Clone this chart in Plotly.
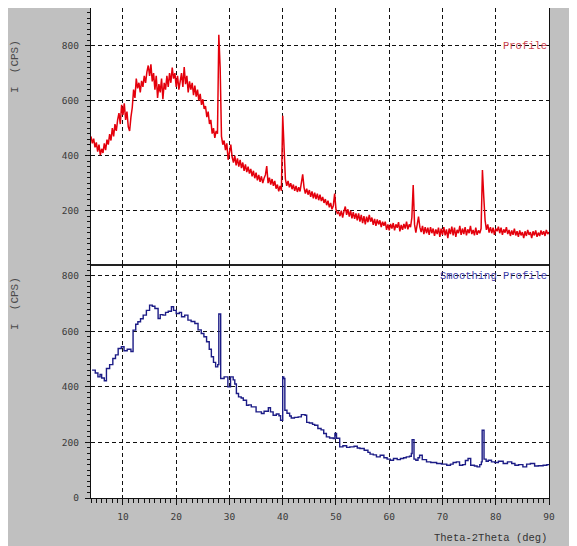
import numpy as np
import plotly.graph_objects as go
from plotly.subplots import make_subplots

# ---------------- data ----------------
# Raw profile (top, red): 2theta from 4.00 to 90.00 deg, 0.25 deg step
red_start = 4.0
red_step = 0.25
red_counts = [
    470, 445, 462, 430, 448, 415, 440, 402, 425, 410, 445, 420, 458, 440, 478, 455, 500, 470, 515, 490,
    530, 555, 515, 585, 548, 590, 530, 560, 505, 490, 540, 575, 640, 610, 680, 645, 665, 630, 672, 650,
    690, 665, 705, 728, 690, 732, 670, 700, 640, 690, 610, 660, 630, 680, 605, 665, 640, 690, 650, 700,
    665, 720, 680, 700, 650, 690, 640, 675, 700, 650, 722, 660, 690, 630, 670, 640, 665, 620, 655, 615,
    640, 600, 625, 585, 605, 570, 580, 540, 560, 515, 530, 480, 500, 465, 490, 480, 840, 720, 470, 440,
    455, 420, 445, 385, 410, 440, 395, 375, 400, 365, 390, 360, 385, 355, 375, 345, 368, 340, 360, 335,
    352, 325, 345, 318, 338, 310, 330, 305, 325, 300, 318, 330, 362, 300, 320, 295, 315, 290, 308, 280,
    295, 270, 290, 272, 545, 400, 315, 290, 308, 285, 300, 278, 295, 272, 290, 268, 285, 270, 300, 332,
    285, 262, 280, 258, 275, 250, 270, 245, 265, 242, 262, 238, 258, 235, 250, 228, 242, 220, 236, 212,
    228, 205, 218, 262, 205, 190, 195, 180, 200, 175, 198, 215, 185, 205, 178, 200, 172, 195, 170, 190,
    165, 190, 160, 185, 155, 180, 150, 178, 158, 185, 160, 175, 148, 170, 145, 168, 150, 165, 140, 160,
    145, 160, 130, 150, 128, 152, 135, 155, 128, 150, 138, 158, 125, 148, 130, 152, 135, 160, 132, 150,
    140, 175, 293, 150, 120, 150, 178, 140, 122, 145, 115, 140, 118, 138, 112, 140, 118, 135, 108, 132,
    115, 138, 105, 135, 112, 140, 110, 132, 100, 135, 115, 142, 110, 138, 105, 130, 118, 145, 112, 135,
    115, 140, 110, 132, 118, 145, 115, 130, 110, 138, 112, 128, 118, 135, 348, 250, 165, 130, 150, 120,
    140, 118, 138, 112, 135, 125, 142, 118, 138, 112, 132, 120, 140, 115, 130, 108, 128, 112, 135, 110,
    125, 105, 128, 110, 122, 100, 125, 108, 130, 112, 122, 100, 125, 110, 128, 105, 120, 108, 128, 112,
    125, 108, 130, 115, 122,
]
red_theta = red_start + red_step * np.arange(len(red_counts))

# Smoothing profile (bottom, blue)
blue_theta = [
    4.2, 4.8, 5.3, 5.7, 6.0, 6.5, 6.9, 7.5, 8.1, 8.6, 9.1, 9.7, 10.2, 10.8, 11.5, 11.9, 12.4, 12.8,
    13.3, 13.8, 14.4, 15.0, 15.5, 16.0, 16.6, 17.0, 17.5, 18.0, 18.5, 19.1, 19.5, 20.0, 20.6, 21.0,
    21.6, 22.2, 22.8, 23.5, 24.1, 24.7, 25.2, 25.7, 26.2, 26.6, 27.0, 27.4, 27.8, 28.0, 28.2, 28.35,
    28.5, 29.0, 29.5, 29.7, 30.2, 30.7, 31.0, 31.3, 31.7, 32.2, 32.6, 33.2, 33.6, 34.1, 34.5, 35.0,
    35.4, 36.0, 36.5, 37.3, 37.7, 38.2, 38.8, 39.3, 39.6, 39.85, 40.0, 40.2, 40.4, 40.8, 41.3, 41.6,
    42.2, 42.9, 43.5, 44.2, 44.5, 45.0, 45.6, 46.0, 46.6, 47.2, 47.7, 48.2, 48.8, 49.5, 49.8, 50.1,
    50.7, 51.3, 52.0, 52.6, 53.4, 54.0, 54.5, 55.3, 56.0, 56.4, 57.0, 57.6, 58.3, 59.0, 59.6, 60.2,
    60.8, 61.5, 62.1, 62.7, 63.2, 63.8, 64.15, 64.3, 64.5, 64.65, 65.0, 65.4, 65.7, 66.2, 67.0, 67.8,
    68.9, 69.8, 70.8, 71.5, 72.0, 72.6, 73.2, 73.8, 74.3, 74.8, 75.3, 76.0, 76.5, 77.0, 77.3, 77.45,
    77.65, 77.8, 78.2, 78.6, 79.2, 79.8, 80.5, 81.4, 82.2, 83.0, 83.6, 84.3, 85.1, 85.8, 86.5, 87.3,
    88.0, 88.9, 89.6, 90.0,
]
blue_counts = [
    460, 450, 436, 445, 432, 422, 466, 480, 502, 515, 538, 544, 530, 535, 527, 604, 625, 634,
    645, 658, 675, 694, 690, 682, 646, 660, 658, 668, 672, 688, 675, 664, 668, 652,
    658, 640, 635, 628, 605, 592, 580, 562, 535, 508, 488, 472, 480, 662, 662, 430,
    430, 436, 436, 400, 436, 425, 410, 376, 364, 360, 352, 334, 335, 328, 328, 310,
    310, 304, 312, 325, 310, 298, 302, 296, 280, 280, 436, 430, 316, 305, 295, 288,
    290, 292, 300, 298, 272, 270, 265, 262, 250, 245, 232, 220, 216, 214, 232, 215,
    184, 188, 182, 184, 186, 180, 178, 172, 164, 158, 155, 148, 154, 145, 140, 136,
    142, 138, 142, 145, 148, 150, 160, 210, 210, 140, 136, 145, 154, 138, 130, 128,
    124, 122, 118, 122, 128, 130, 118, 120, 135, 142, 118, 115, 112, 120, 130, 244,
    244, 140, 132, 136, 130, 128, 132, 124, 130, 124, 118, 120, 112, 122, 124, 115,
    116, 118, 120, 118,
]

y_ticks_top = [200, 400, 600, 800]
y_ticks_bottom = [0, 200, 400, 600, 800]
x_ticks = [10, 20, 30, 40, 50, 60, 70, 80, 90]

# ---------------- figure ----------------
# the page body adds an 8px margin on the top/left, so the figure is drawn from (8, 8)
W, H = 569, 538
ML, MR, MT, MB = 83, 28, 0, 48
plot_w = W - ML - MR
plot_h = H - MT - MB
split = 1 - (256 - MT) / plot_h

fig = make_subplots(rows=2, cols=1, shared_xaxes=False, vertical_spacing=0)

fig.add_trace(go.Scatter(x=red_theta, y=red_counts, mode="lines",
                         line=dict(color="#e4000c", width=1.5), showlegend=False),
              row=1, col=1)
fig.add_trace(go.Scatter(x=blue_theta, y=blue_counts, mode="lines", line_shape="hv",
                         line=dict(color="#1c1c86", width=1.4), showlegend=False),
              row=2, col=1)

tick_font = dict(family="DejaVu Sans Mono", size=9.5, color="#3a3a3a")
grid = dict(showgrid=True, gridcolor="#111111", gridwidth=1, griddash="4px,3px", zeroline=False)

fig.update_layout(
    width=W, height=H,
    margin=dict(l=ML, r=MR, t=MT, b=MB, pad=0),
    paper_bgcolor="#c0c0c0",
    plot_bgcolor="#ffffff",
    showlegend=False,
    xaxis=dict(range=[4, 90], tickvals=x_ticks, showticklabels=False, ticks="",
               showline=True, linecolor="#222222", linewidth=1.6, **grid),
    xaxis2=dict(range=[4, 90], tickvals=x_ticks, ticks="outside", ticklen=6, tickwidth=1,
                tickcolor="#111111", tickfont=tick_font, ticklabelstandoff=3,
                minor=dict(dtick=1, tick0=0, ticks="outside", ticklen=4, tickcolor="#111111", showgrid=False),
                showline=True, linecolor="#111111", linewidth=1.2, **grid),
    yaxis=dict(domain=[split, 1], range=[6, 937], tickvals=y_ticks_top, ticks="outside",
               ticklen=5, tickcolor="#111111", tickfont=tick_font, ticklabelstandoff=4,
               minor=dict(dtick=20, tick0=0, ticks="outside", ticklen=3, tickcolor="#111111", showgrid=False),
               showline=True, mirror=True, linecolor="#111111", linewidth=1.2, **grid),
    yaxis2=dict(domain=[0, split], range=[0, 842], tickvals=y_ticks_bottom, ticks="outside",
                ticklen=5, tickcolor="#111111", tickfont=tick_font, ticklabelstandoff=4,
                minor=dict(dtick=20, tick0=0, ticks="outside", ticklen=3, tickcolor="#111111", showgrid=False),
                showline=True, mirror=True, linecolor="#111111", linewidth=1.2, **grid),
)

mono = "Liberation Mono"
fig.add_annotation(text="Profile", xref="paper", x=1, xanchor="right", yref="y", y=800,
                   yanchor="middle", showarrow=False,
                   font=dict(family=mono, size=10.5, color="#c8404c"))
fig.add_annotation(text="Smoothing Profile", xref="paper", x=1, xanchor="right", yref="y2", y=800,
                   yanchor="middle", showarrow=False,
                   font=dict(family=mono, size=10.5, color="#3c3ca8"))
fig.add_annotation(text="Theta-2Theta (deg)", xref="paper", x=1, xanchor="right", yref="paper",
                   y=-(530 - (H - MB)) / plot_h, yanchor="middle", showarrow=False,
                   font=dict(family=mono, size=10.5, color="#333333"))
for ypix in (59, 296):
    fig.add_annotation(text="I  (CPS)", xref="paper", x=(7 - ML) / plot_w, xanchor="center",
                       yref="paper", y=((H - MB) - ypix) / plot_h, yanchor="middle",
                       textangle=-90, showarrow=False,
                       font=dict(family=mono, size=11, color="#4a4a4a"))

fig.write_html("out.html")
